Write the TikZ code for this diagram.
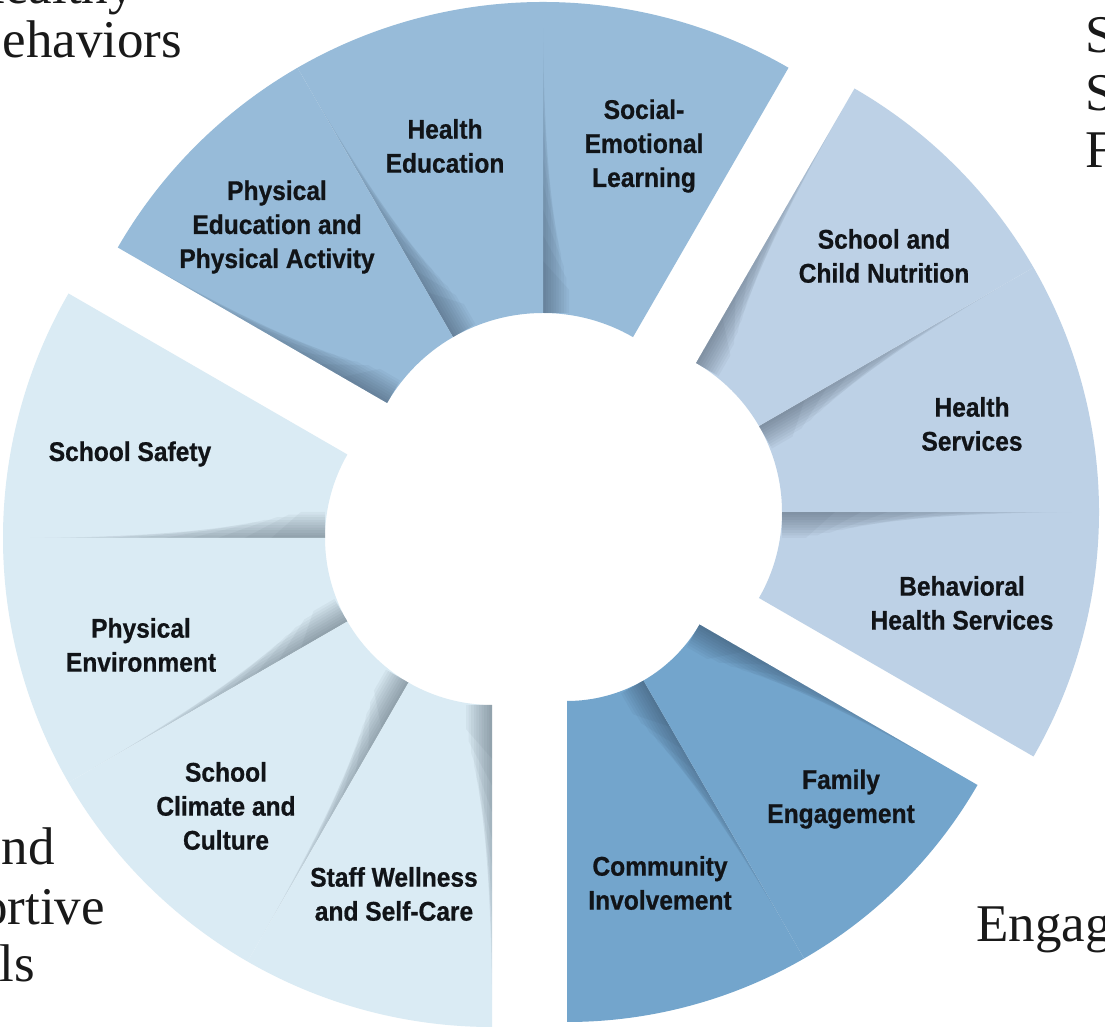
\documentclass[tikz,border=0pt]{standalone}
\usepackage{fontspec}
\newfontfamily\segfont{Liberation Sans}[FakeStretch=0.91, BoldFeatures={FakeBold=0.7}]
\newfontfamily\headfont{Liberation Serif}
\usetikzlibrary{calc}
\definecolor{healthyblue}{HTML}{97BBD9}
\definecolor{serviceblue}{HTML}{BDD1E6}
\definecolor{engageblue}{HTML}{73A5CC}
\definecolor{schoolblue}{HTML}{DAEBF4}
\definecolor{labelink}{HTML}{111418}
\definecolor{shadowgrey}{HTML}{1E2A3A}
\tikzset{
  seglabel/.style={font=\segfont\bfseries\fontsize{27}{34}\selectfont, text=labelink, align=center, inner sep=0pt},
  headtext/.style={font=\headfont\fontsize{53}{58}\selectfont, text=black!90, inner sep=0pt},
  shadepiece/.style={fill=shadowgrey, fill opacity=0.045},
}

\begin{document}
\begin{tikzpicture}[x=1pt,y=1pt]
\useasboundingbox (0,0) rectangle (1105,1030);
\fill[white] (0,0) rectangle (1105,1030);
\clip (0,0) rectangle (1105,1030);

% centres of the four groups, pulled a little apart
\coordinate (ctop) at (543,537);
\coordinate (crgt) at (610,518);
\coordinate (ceng) at (567,482);
\coordinate (clft) at (492,492);

% ring pieces: centre / start angle / inner r / outer r / colour
\foreach \cc/\a/\rin/\rout/\col in {
  ctop/60/180/491/healthyblue, ctop/90/180/491/healthyblue, ctop/120/180/491/healthyblue,
  crgt/-30/172/489/serviceblue, crgt/0/172/489/serviceblue, crgt/30/172/489/serviceblue,
  ceng/-90/153/474/engageblue, ceng/-60/153/474/engageblue,
  clft/150/167/489/schoolblue, clft/180/167/489/schoolblue, clft/210/167/489/schoolblue, clft/240/167/489/schoolblue}
{
  \fill[\col, shift={(\cc)}] (\a:\rin) arc[start angle=\a, end angle=\a+30, radius=\rin]
    -- (\a+30:\rout) arc[start angle=\a+30, end angle=\a, radius=\rout] -- cycle;
  % soft shadow band along the upper edge of the piece
  \foreach \i in {1,...,10}{
    \pgfmathsetmacro\len{\rout-(\rout-\rin)*\i/12}
    \pgfmathsetmacro\half{(\len-\rin)*0.45}
    \fill[shadepiece, shift={(\cc)}] (\a+30:\len) -- (\a+30:\rin) -- ++(\a-60:2.6*\i) -- ++(\a+30:\half) -- cycle;
  }
}

% labels of the pieces
\node[seglabel] (physed) at (277,803) {Physical\\Education and\\Physical Activity};
\node[seglabel] (healthed) at (445,884) {Health\\Education};
\node[seglabel] (sel) at (644,884) {Social-\\Emotional\\Learning};
\node[seglabel] (nutrition) at (884,774) {School and\\Child Nutrition};
\node[seglabel] (healthsrv) at (972,606) {Health\\Services};
\node[seglabel] (behavsrv) at (962,427) {Behavioral\\Health Services};
\node[seglabel] (family) at (841,231) {Family\\Engagement};
\node[seglabel] (community) at (660,147) {Community\\Involvement};
\node[seglabel] (safety) at (130,576) {School Safety};
\node[seglabel] (physenv) at (141,385) {Physical\\Environment};
\node[seglabel] (climate) at (226,224) {School\\Climate and\\Culture};
\node[seglabel] (staff) at (394,136) {Staff Wellness\\and Self-Care};

% group titles, cut by the page edge
\node[headtext, anchor=base west] (healthy) at (-33,1026) {Healthy};
\node[headtext, anchor=base west] (behaviors) at (-33,972) {Behaviors};
\node[headtext, anchor=base west] (srvA) at (1085,977) {S};
\node[headtext, anchor=base west] (srvB) at (1085,919) {S};
\node[headtext, anchor=base west] (srvC) at (1085,862) {F};
\node[headtext, anchor=base east] (safeA) at (55,165) {nd};
\node[headtext, anchor=base east] (safeB) at (105,105) {ortive};
\node[headtext, anchor=base east] (safeC) at (35,48) {ls};
\node[headtext, anchor=base west] (engage) at (976,88) {Engag};
\end{tikzpicture}
\end{document}
